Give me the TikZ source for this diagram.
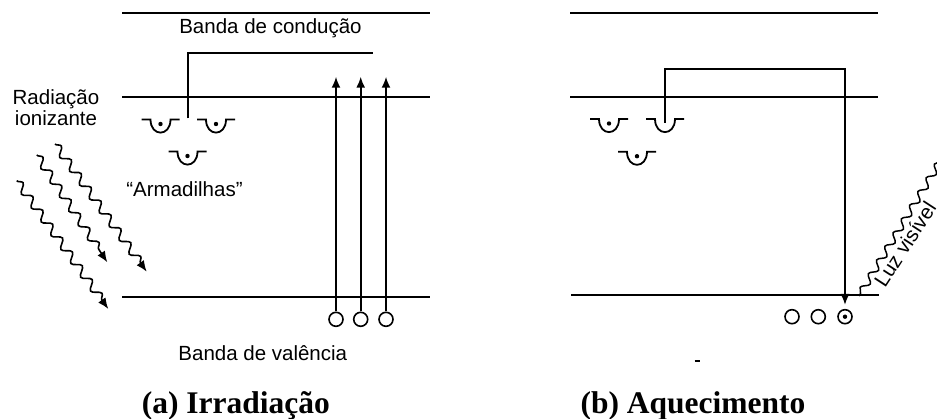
\documentclass[tikz,border=0pt]{standalone}
\usepackage{fontspec}
\setmainfont{Liberation Serif}
\newfontfamily\labelfont{Liberation Sans}
\usetikzlibrary{arrows.meta,decorations.pathmorphing}

\tikzset{
  band/.style={line width=2pt},
  lead/.style={line width=1.9pt},
  uparr/.style={line width=1.9pt,-{Latex[length=11pt,width=9pt]}},
  photon/.style={line width=1.6pt, decorate,
    decoration={snake,amplitude=4pt,segment length=17pt,post length=10pt},
    -{Latex[length=11pt,width=9pt]}},
  light/.style={line width=1.5pt, decorate,
    decoration={snake,amplitude=3.5pt,segment length=16pt,pre length=3pt}},
  lbl/.style={font=\labelfont\fontsize{20.5}{21}\selectfont, inner sep=0pt, anchor=base},
  ttl/.style={font=\bfseries\fontsize{31.5}{33}\selectfont, inner sep=0pt, anchor=base},
  hole/.style={circle, draw, line width=1.6pt, minimum size=14pt, inner sep=0pt},
  % electron trap: two short ledges and a cup, with or without a trapped electron
  trapopen/.pic={
    \draw[line width=1.8pt] (-19,0) -- (-10,0)
      .. controls (-10,17.5) and (10,17.5) .. (10,0) -- (19,0);
  },
  trapdot/.pic={
    \draw[line width=1.8pt] (-19,0) -- (-10,0)
      .. controls (-10,17.5) and (10,17.5) .. (10,0) -- (19,0);
    \fill (0,4.5) circle (2.2pt);
  }
}

\begin{document}
\begin{tikzpicture}[x=1pt,y=-1pt]
\fill[white] (0,0) rectangle (937,419);
\useasboundingbox (0,0) rectangle (937,419);

% ---------- (a) irradiation ----------
\draw[band] (122,13.3) -- (430,13.3);
\draw[band] (122,97.3) -- (430,97.3);
\draw[band] (122,296.7) -- (430,296.7);

\node[lbl] (cba) at (270.5,33.3) {Banda de condução};
\node[lbl] (vba) at (262.8,361) {Banda de valência};
\node[lbl] (rad1) at (56,104.3) {Radiação};
\node[lbl] (rad2) at (56,125.3) {ionizante};
\node[lbl] (arm) at (184.5,196.7) {“Armadilhas”};
\node[ttl] (tita) at (235.8,413.3) {(a) Irradiação};

\pic at (160.5,119.5) {trapdot};
\pic at (216,119.5) {trapdot};
\pic at (187.5,151.5) {trapdot};

\coordinate (ka) at (187.7,118.5);
\coordinate (kae) at (373.3,52.7);
\draw[lead] (ka) |- (kae);

\node[hole] (ha1) at (336,319.3) {};
\node[hole] (ha2) at (360.7,319.3) {};
\node[hole] (ha3) at (386,319.3) {};
\coordinate (ua1) at (336,76.7);
\coordinate (ua2) at (360.7,76.7);
\coordinate (ua3) at (386,76.7);
\draw[uparr] (ha1) -- (ua1);
\draw[uparr] (ha2) -- (ua2);
\draw[uparr] (ha3) -- (ua3);

\coordinate (ps1) at (55,144);
\coordinate (pe1) at (146.7,271.7);
\coordinate (ps2) at (36.7,155);
\coordinate (pe2) at (107.3,262.3);
\coordinate (ps3) at (16.7,180.7);
\coordinate (pe3) at (108.3,309);
\draw[photon] (ps1) -- (pe1);
\draw[photon] (ps2) -- (pe2);
\draw[photon] (ps3) -- (pe3);

% ---------- (b) heating ----------
\draw[band] (570,13.3) -- (878,13.3);
\draw[band] (570,96.7) -- (878,96.7);
\draw[band] (571,295) -- (879,295);

\pic at (609,119) {trapdot};
\pic at (665,119) {trapopen};
\pic at (637,151.7) {trapdot};

\coordinate (kb) at (665,123);
\coordinate (kc) at (845,69);
\coordinate (kd) at (845,305);
\draw[uparr] (kb) |- (kc) -- (kd);

\node[hole] (hb1) at (792,316.7) {};
\node[hole] (hb2) at (818.3,316.7) {};
\node[hole] (hb3) at (845,316.7) {};
\fill (hb3.center) circle (2.2pt);

\coordinate (ls) at (859,296);
\coordinate (le) at (941,160);
\draw[light] (ls) -- (le);
\node[lbl, anchor=base west, rotate=57] (luz) at (885,288.5) {Luz visível};

\draw[line width=2.5pt] (694.5,361) -- (699.5,361);
\node[ttl] (titb) at (693,413.3) {(b) Aquecimento};
\end{tikzpicture}
\end{document}
